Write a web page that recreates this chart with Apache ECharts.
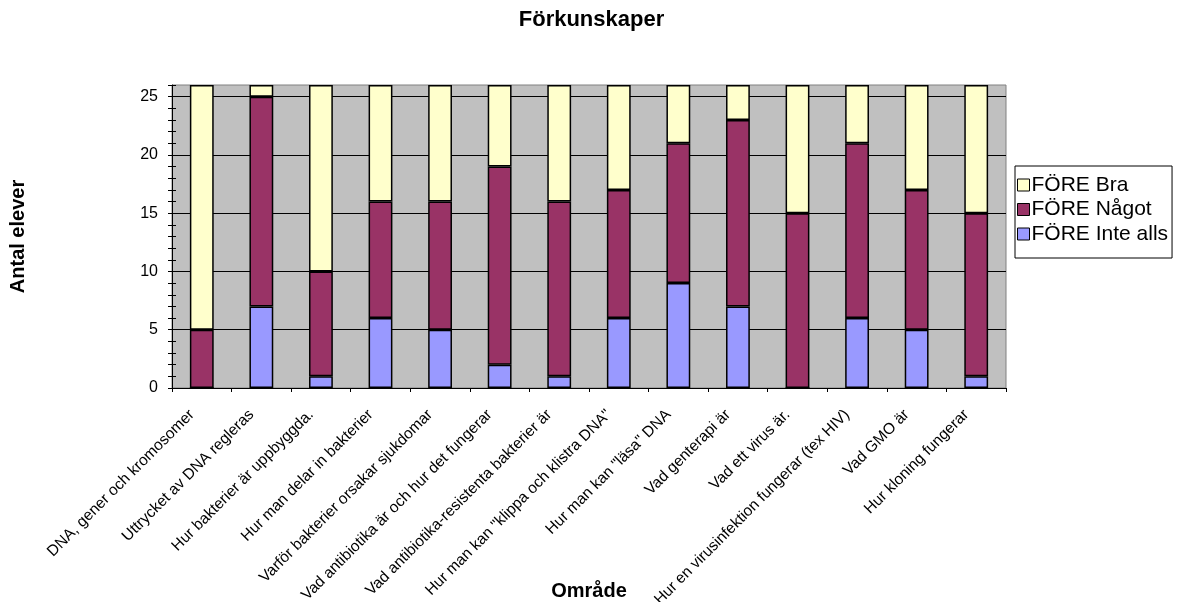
<!DOCTYPE html>
<html>
<head>
<meta charset="utf-8">
<title>Förkunskaper</title>
<script src="https://cdn.jsdelivr.net/npm/echarts@6/dist/echarts.min.js"></script>
<style>
  html, body { margin: 0; padding: 0; background: #ffffff; }
  #chart { width: 1183px; height: 602px; }
</style>
</head>
<body>
<div id="chart"></div>
<script>
// Topics (x categories)
const categories = [
  'DNA, gener och kromosomer',
  'Uttrycket av DNA regleras',
  'Hur bakterier är uppbyggda.',
  'Hur man delar in bakterier',
  'Varför bakterier orsakar sjukdomar',
  'Vad antibiotika är och hur det fungerar',
  'Vad antibiotika-resistenta bakterier är',
  'Hur man kan "klippa och klistra DNA"',
  'Hur man kan "läsa" DNA',
  'Vad genterapi är',
  'Vad ett virus är.',
  'Hur en virusinfektion fungerar (tex HIV)',
  'Vad GMO är',
  'Hur kloning fungerar'
];

// Number of students per answer, stacked bottom to top
const inteAlls = [0, 7, 1, 6, 5, 2, 1, 6, 9, 7, 0, 6, 5, 1];
const nagot    = [5, 18, 9, 10, 11, 17, 15, 11, 12, 16, 15, 15, 12, 14];
const bra      = [21, 1, 16, 10, 10, 7, 10, 9, 5, 3, 11, 5, 9, 11];

const seriesNames = ['FÖRE Inte alls', 'FÖRE Något', 'FÖRE Bra'];
const yMax = 26;

const FONT = '"Liberation Sans", Arial, Helvetica, sans-serif';
const colors = { 'FÖRE Bra': '#FFFFCC', 'FÖRE Något': '#993366', 'FÖRE Inte alls': '#9999FF' };

function barSeries(name, values) {
  return {
    name: name,
    type: 'bar',
    stack: 'total',
    barWidth: '40%',
    yAxisIndex: 0,
    data: values,
    itemStyle: { color: colors[name], borderColor: '#000000', borderWidth: 1.5 },
    emphasis: { disabled: true }
  };
}

// Small tick-only axis used to draw the 1-unit tick marks on both sides of the value axis
function tickAxis(inside) {
  return {
    type: 'value', position: 'left', offset: 0,
    min: 0, max: yMax, interval: 1,
    axisLine: { show: false },
    axisLabel: { show: false },
    splitLine: { show: false },
    axisTick: { show: true, inside: inside, length: 4, lineStyle: { color: '#000', width: 1 } }
  };
}

const chart = echarts.init(document.getElementById('chart'), null, { renderer: 'canvas' });

chart.setOption({
  animation: false,
  backgroundColor: '#ffffff',
  textStyle: { fontFamily: FONT, color: '#000' },
  title: {
    text: 'Förkunskaper',
    left: 'center',
    top: 4,
    textStyle: { fontFamily: FONT, fontSize: 22, fontWeight: 'bold', color: '#000' }
  },
  legend: {
    orient: 'vertical',
    left: 1015,
    top: 166,
    data: ['FÖRE Bra', 'FÖRE Något', 'FÖRE Inte alls'],
    icon: 'rect',
    itemWidth: 12,
    itemHeight: 12,
    itemGap: 2.5,
    padding: [8, 4, 13, 2],
    borderColor: '#000',
    borderWidth: 1,
    backgroundColor: '#ffffff',
    selectedMode: false,
    itemStyle: { borderColor: '#000', borderWidth: 1 },
    textStyle: { fontFamily: FONT, fontSize: 21, lineHeight: 22, color: '#000', padding: [0, 0, 0, -3] }
  },
  grid: {
    left: 172, right: 177, top: 85, bottom: 214,
    outerBoundsMode: 'none',
    containLabel: false,
    show: true,
    backgroundColor: '#C0C0C0',
    borderColor: '#808080',
    borderWidth: 1
  },
  xAxis: {
    type: 'category',
    data: categories,
    boundaryGap: true,
    name: 'Område',
    nameLocation: 'middle',
    nameGap: 193,
    nameMoveOverlap: false,
    nameTextStyle: { fontFamily: FONT, fontSize: 20, fontWeight: 'bold', color: '#000' },
    axisLine: { show: true, lineStyle: { color: '#000', width: 1 } },
    axisTick: { show: true, alignWithLabel: false, length: 4, lineStyle: { color: '#000' } },
    axisLabel: {
      interval: 0,
      rotate: 45,
      margin: 3,
      align: 'right',
      verticalAlign: 'top',
      padding: [0, 22, 0, 0],
      fontFamily: FONT,
      fontSize: 15.5,
      color: '#000'
    },
    splitLine: { show: false }
  },
  yAxis: [
    {
      type: 'value',
      position: 'left',
      min: 0, max: yMax, interval: 5,
      name: 'Antal elever',
      nameLocation: 'middle',
      nameRotate: 90,
      nameGap: 144,
      nameMoveOverlap: false,
      nameTextStyle: { fontFamily: FONT, fontSize: 20, fontWeight: 'bold', color: '#000' },
      axisLine: { show: true, lineStyle: { color: '#000', width: 1 } },
      axisTick: { show: false },
      axisLabel: { fontFamily: FONT, fontSize: 16, color: '#000', margin: 14, showMaxLabel: false },
      splitLine: { show: true, showMinLine: false, showMaxLine: false, lineStyle: { color: '#000', width: 1 } }
    },
    tickAxis(false),
    tickAxis(true)
  ],
  series: [
    barSeries(seriesNames[0], inteAlls),
    barSeries(seriesNames[1], nagot),
    barSeries(seriesNames[2], bra)
  ]
});
</script>
</body>
</html>
